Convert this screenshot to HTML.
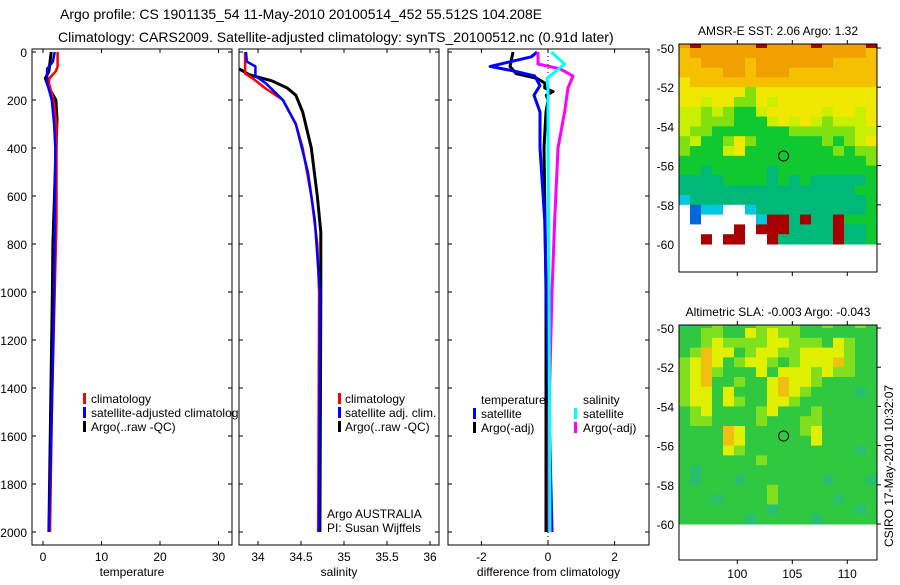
<!DOCTYPE html>
<html><head><meta charset="utf-8"><style>
body{margin:0;background:#fff;width:900px;height:580px;overflow:hidden}
svg{font-family:"Liberation Sans",sans-serif;}
</style></head><body>
<svg id="s" width="900" height="580" xmlns="http://www.w3.org/2000/svg">
<text x="60" y="19" font-size="14">Argo profile: CS 1901135_54 11-May-2010 20100514_452 55.512S 104.208E</text>
<text x="58" y="42" font-size="14">Climatology: CARS2009. Satellite-adjusted climatology: synTS_20100512.nc (0.91d later)</text>
</svg>
<script>
// ---------- data ----------
const depthTicks=[0,200,400,600,800,1000,1200,1400,1600,1800,2000];
const tempTicks=[0,10,20,30];
const salTicks=[34,34.5,35,35.5,36];
const salTickLabels=["34","34.5","35","35.5","36"];
const diffTicks=[-2,0,2];
const latTicks=[-50,-52,-54,-56,-58,-60];
const lonTicks=[100,105,110];

const tClimD=[0,60,80,110,130,200,300,700,1000,1500,2000];
const tClimV=[2.5,2.5,2.2,1.1,1.0,1.8,2.3,2.3,2.0,1.5,1.2];
const tSatD=[0,40,70,130,200,300,400,1000,1500,2000];
const tSatV=[2.0,1.7,0.7,0.7,1.5,1.9,2.1,1.9,1.5,1.0];
const tArgoD=[0,80,110,150,200,280,800,1000,1500,2000];
const tArgoV=[1.4,1.0,0.4,1.0,2.2,2.4,1.7,1.6,1.3,1.0];

const sClimD=[0,90,110,150,200,300,400,600,800,1000,2000];
const sClimV=[33.85,33.85,33.94,34.08,34.29,34.44,34.52,34.62,34.69,34.71,34.70];
const sSatD=[0,40,60,100,130,200,300,500,700,1000,2000];
const sSatV=[33.86,33.87,33.97,33.97,34.09,34.29,34.44,34.58,34.66,34.72,34.71];
const sArgoD=[70,95,120,150,180,250,400,600,750,1000,2000];
const sArgoV=[33.78,33.9,34.16,34.34,34.44,34.52,34.62,34.69,34.73,34.73,34.72];

const dTSatD=[0,20,60,80,100,140,180,250,400,700,1000,2000];
const dTSatV=[-0.33,-0.5,-1.74,-1.0,-0.4,-0.24,-0.42,-0.24,-0.24,-0.1,-0.05,0.12];
const dTArgoD=[0,60,90,110,130,150,165,180,200,250,400,1000,2000];
const dTArgoV=[-1.05,-1.14,-0.96,-0.33,-0.09,-0.1,0.15,-0.05,0.0,-0.06,-0.12,-0.06,-0.06];
const dSSatD=[0,50,110,150,300,1000,2000];
const dSSatV=[0.1,0.5,-0.03,0.0,0.0,0.03,0.06];
const dSArgoD=[0,50,70,100,150,250,400,700,1000,1500,2000];
const dSArgoV=[-0.3,-0.3,0.36,0.75,0.6,0.5,0.3,0.2,0.12,0.03,0.03];

// heatmap grids: rows from -49.75 southward in 0.5deg, 18 cols of 1deg from 94.7E
const sstRows=[
"9a99999a9999a9999a","899999999999999998","889999899999998888","888899899988888888",
"788888888888888888","777777577777777777","776775576777777777","665654467777767767",
"665554446767656667","655444444455555566","564457544444454567","544467444444445455",
"444444444444444445","443444443444444444","333344443434333334","333333333333333344",
"233333333333333334","012200233333333334","01000002aa3a33a444","00000a0aaa3333a334",
"00a0aa00a33333a334"];
const slaRows=[
"244544455554454454","445544656554444444","445655556655546544","457664566556666544",
"567645665456667544","567544464666565544","567445446766544444","566464446765444434",
"566465446654444444","456444456444544444","455444454445544444","444476444445644444",
"444476444444644444","444465444444444434","444444454444444444","434444444444444444",
"434443444444434443","444444445444444444","444344445444443444","444444443444444434",
"444444344444344444"];
const sstColors={"0":"#ffffff","1":"#0066dd","2":"#00c8e0","3":"#00b878","4":"#10c830","5":"#80e010","6":"#c8f000","7":"#f0e800","8":"#f5c000","9":"#f0a000","a":"#a80000"};
const slaColors={"2":"#20c0a0","3":"#28c070","4":"#30c840","5":"#80e020","6":"#e0f000","7":"#f0c010"};

// ---------- helpers ----------
const S=document.getElementById('s'),NS="http://www.w3.org/2000/svg";
function mk(t,a,p){const e=document.createElementNS(NS,t);for(const k in a)e.setAttribute(k,a[k]);(p||S).appendChild(e);return e;}
const Y0=52,YS=0.24,PB=545;
const yD=d=>Y0+d*YS;
const panels=[
 {l:32,r:232,x:v=>43+v*5.85,name:'temperature'},
 {l:239,r:439,x:v=>258+(v-34)*86,name:'salinity'},
 {l:448,r:649,x:v=>548+v*33.3,name:'difference from climatology'}];
function frame(p,ticks,labels,nm){
 const g=mk('g',{});
 
 
 const r=mk('rect',{x:p.l,y:Y0-3,width:p.r-p.l,height:PB-Y0+3,fill:'none',stroke:'#000','stroke-width':1},g);
 
 
 depthTicks.forEach(d=>{mk('line',{x1:p.l,x2:p.l+4,y1:yD(d),y2:yD(d),stroke:'#000'},g);mk('line',{x1:p.r,x2:p.r-4,y1:yD(d),y2:yD(d),stroke:'#000'},g);});
 ticks.forEach((t,i)=>{const x=p.x(t);mk('line',{x1:x,x2:x,y1:PB,y2:PB-4,stroke:'#000'},g);mk('line',{x1:x,x2:x,y1:Y0-3,y2:Y0+1,stroke:'#000'},g);
  const tx=mk('text',{x:x,y:PB+16,'font-size':12,'text-anchor':'middle'},g);tx.textContent=labels[i];
  
  });
 const xl=mk('text',{x:(p.l+p.r)/2,y:PB+31,'font-size':12,'text-anchor':'middle'},g);xl.textContent=p.name;
 
 
 return g;}
function line(p,D,V,col,nm,w){
 const pts=D.map((d,i)=>p.x(V[i]).toFixed(1)+','+yD(d).toFixed(1)).join(' ');
 const e=mk('polyline',{points:pts,fill:'none',stroke:col,'stroke-width':w||2.5,'stroke-linejoin':'round'});
 
 }
function txt(x,y,s,nm,sz,anc){const t=mk('text',{x:x,y:y,'font-size':sz||12,'text-anchor':anc||'start'});t.textContent=s;
 
 return t;}
function swatch(x,y,c,nm){const r=mk('rect',{x:x,y:y-10,width:3,height:11,fill:c});
 
 }

// ---------- panel 1 ----------
frame(panels[0],tempTicks,tempTicks.map(String),'temperature');
depthTicks.forEach(d=>{const t=txt(27,yD(d)+5,String(d),'depth-tick-label',12,'end');});
line(panels[0],tArgoD,tArgoV,'#000','temp-argo-line',3);
line(panels[0],tClimD,tClimV,'#f00','temp-climatology-line');
line(panels[0],tSatD,tSatV,'#00f','temp-satellite-line');
swatch(83,403,'#f00','legend-swatch-climatology');txt(91,403,'climatology','legend-climatology');
swatch(83,417,'#00f','legend-swatch-satellite');
const cp=mk('clipPath',{id:'c1'});mk('rect',{x:0,y:0,width:238,height:580},cp);
const lt=txt(91,417,'satellite-adjusted climatology','legend-satellite-adjusted');lt.setAttribute('clip-path','url(#c1)');
swatch(83,431,'#000','legend-swatch-argo');txt(91,431,'Argo(..raw -QC)','legend-argo');

// ---------- panel 2 ----------
frame(panels[1],salTicks,salTickLabels,'salinity');
line(panels[1],sArgoD,sArgoV,'#000','sal-argo-line',3);
line(panels[1],sClimD,sClimV,'#f00','sal-climatology-line');
line(panels[1],sSatD,sSatV,'#00f','sal-satellite-line');
swatch(338,403,'#f00','legend2-swatch-climatology');txt(345,403,'climatology','legend2-climatology');
swatch(338,417,'#00f','legend2-swatch-satellite');txt(345,417,'satellite adj. clim.','legend2-satellite');
swatch(338,431,'#000','legend2-swatch-argo');txt(345,431,'Argo(..raw -QC)','legend2-argo');
txt(327,518,'Argo AUSTRALIA','argo-country-label');
txt(327,532,'PI: Susan Wijffels','pi-label');

// ---------- panel 3 ----------
frame(panels[2],diffTicks,diffTicks.map(String),'difference');
mk('line',{x1:548,x2:548,y1:Y0,y2:PB,stroke:'#000','stroke-dasharray':'1,3'});
line(panels[2],dTArgoD,dTArgoV,'#000','diff-temp-argo-line',3);
line(panels[2],dTSatD,dTSatV,'#00f','diff-temp-satellite-line',3);
line(panels[2],dSArgoD,dSArgoV,'#f0f','diff-sal-argo-line',3);
line(panels[2],dSSatD,dSSatV,'#0ff','diff-sal-satellite-line',3);
txt(481,404,'temperature','legend3-temperature-header');txt(583,404,'salinity','legend3-salinity-header');
swatch(473,418,'#00f','legend3-swatch-temp-sat');txt(481,418,'satellite','legend3-temp-satellite');
swatch(473,432,'#000','legend3-swatch-temp-argo');txt(481,432,'Argo(-adj)','legend3-temp-argo');
swatch(574,418,'#0ff','legend3-swatch-sal-sat');txt(583,418,'satellite','legend3-sal-satellite');
swatch(574,432,'#f0f','legend3-swatch-sal-argo');txt(583,432,'Argo(-adj)','legend3-sal-argo');

// ---------- maps ----------
function map(top,bot,lat50,rows,colors,nm,title,showLon){
 const L=679,R=877,ppd=11,lon0=94.7;
 const yl=lat=>lat50+(-50-lat)*19.6, xl=lon=>L+(lon-lon0)*ppd;
 const g=mk('g',{});
 
 
 rows.forEach((row,ri)=>{[...row].forEach((c,ci)=>{
  const la=-49.75-ri*0.5, lo=lon0+ci;
  const y1=yl(la+0.25),y2=yl(la-0.25);
  const r=mk('rect',{x:xl(lo),y:Math.max(y1,top),width:ppd+0.5,height:y2-Math.max(y1,top)+0.5,fill:colors[c]},g);
  
  
 });});
 mk('rect',{x:L,y:top,width:R-L,height:bot-top,fill:'none',stroke:'#000'},g);
 latTicks.forEach(la=>{const y=yl(la);mk('line',{x1:R,x2:R+4,y1:y,y2:y,stroke:'#000'},g);
  const t=txt(L-5,y+5,String(la),nm+'-lat-label',12,'end');});
 lonTicks.forEach(lo=>{const x=xl(lo);mk('line',{x1:x,x2:x,y1:bot,y2:bot+4,stroke:'#000'},g);mk('line',{x1:x,x2:x,y1:top,y2:top-4,stroke:'#000'},g);
  if(showLon){txt(x,bot+18,String(lo),nm+'-lon-label',12,'middle');}});
 const c=mk('circle',{cx:xl(104.208),cy:yl(-55.512),r:5,fill:'none',stroke:'#000'},g);
 
 
 txt((L+R)/2,top-9,title,nm+'-title',12,'middle');
}
map(44,272,48,sstRows,sstColors,'sst-map','AMSR-E SST: 2.06 Argo: 1.32',false);
map(325,560,328,slaRows,slaColors,'sla-map','Altimetric SLA: -0.003 Argo: -0.043',true);
const ft=mk('text',{x:0,y:0,'font-size':12,transform:'translate(893,547) rotate(-90)'});ft.textContent='CSIRO 17-May-2010 10:32:07';


</script>
</body></html>
